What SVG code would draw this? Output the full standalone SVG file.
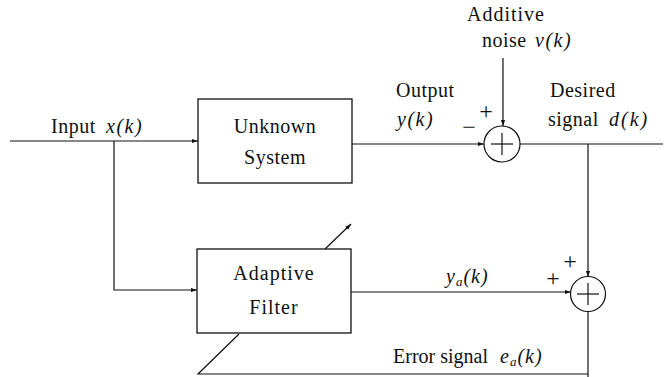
<svg xmlns="http://www.w3.org/2000/svg" width="665" height="377" viewBox="0 0 665 377">
<defs>
<marker id="ah" viewBox="0 0 10 10" refX="10" refY="5" markerWidth="6" markerHeight="6" orient="auto" markerUnits="userSpaceOnUse">
<path d="M0,1.5 L10,5 L0,8.5 z" fill="#111"/>
</marker>
<style>
.ln{fill:none;stroke:#111;stroke-width:1.2}
.bx{fill:#fff;stroke:#111;stroke-width:1.3}
.t{font-family:"Liberation Serif","DejaVu Serif",serif;font-size:20px;fill:#111}
.m{font-style:italic}
.c{text-anchor:middle}
.s{font-family:"Liberation Serif","DejaVu Serif",serif;font-size:24px;fill:#111;text-anchor:middle}
</style>
</defs>
<rect width="665" height="377" fill="#fff"/>
<g id="connectors">
<line class="ln" x1="10" y1="141" x2="198" y2="141" marker-end="url(#ah)"/>
<polyline class="ln" points="114,141 114,290 197,290" marker-end="url(#ah)"/>
<line class="ln" x1="352" y1="144" x2="484" y2="144" marker-end="url(#ah)"/>
<line class="ln" x1="503" y1="58" x2="503" y2="126" marker-end="url(#ah)"/>
<line class="ln" x1="520" y1="144" x2="663" y2="144"/>
<line class="ln" x1="588" y1="144" x2="588" y2="277" marker-end="url(#ah)"/>
<line class="ln" x1="351" y1="292" x2="571" y2="292" marker-end="url(#ah)"/>
<polyline class="ln" points="588,311 588,377"/>
<polyline class="ln" points="588,374 198,374 239,334"/>
<line class="ln" x1="325" y1="249" x2="351" y2="224" marker-end="url(#ah)"/>
</g>
<g id="unknown-system">
<rect class="bx" x="198" y="99" width="154" height="84"/>
<text class="t c" x="275" y="133" letter-spacing="0.5">Unknown</text>
<text class="t c" x="275" y="164" letter-spacing="0.5">System</text>
</g>
<g id="adaptive-filter">
<rect class="bx" x="197" y="249" width="154" height="84"/>
<text class="t c" x="274" y="280" letter-spacing="1">Adaptive</text>
<text class="t c" x="274" y="314" letter-spacing="1">Filter</text>
</g>
<g id="sum1">
<circle class="ln" cx="502" cy="144" r="18"/>
<line class="ln" x1="491" y1="144" x2="513" y2="144"/>
<line class="ln" x1="502" y1="133" x2="502" y2="155"/>
</g>
<g id="sum2">
<circle class="ln" cx="588" cy="294" r="17.5"/>
<line class="ln" x1="577" y1="294" x2="599" y2="294"/>
<line class="ln" x1="588" y1="283" x2="588" y2="305"/>
</g>
<g id="labels">
<text class="t" x="51" y="133" letter-spacing="0.5">Input</text>
<text class="t m" x="106" y="133" letter-spacing="1.5">x(k)</text>
<text class="t" x="396" y="97" letter-spacing="0.5">Output</text>
<text class="t m" x="397" y="126" letter-spacing="1.5">y(k)</text>
<text class="s" x="486" y="119">+</text>
<text class="s" x="469" y="135">−</text>
<text class="t" x="467" y="21" letter-spacing="1">Additive</text>
<text class="t" x="482" y="47" letter-spacing="0.5">noise</text>
<text class="t m" x="535" y="47" letter-spacing="1.5">v(k)</text>
<text class="t" x="550" y="97" letter-spacing="0.5">Desired</text>
<text class="t" x="548" y="126" letter-spacing="0.5">signal</text>
<text class="t m" x="609" y="126" letter-spacing="2">d(k)</text>
<text class="t m" x="446" y="283" letter-spacing="1">y<tspan font-size="13" dy="3">a</tspan><tspan dy="-3">(k)</tspan></text>
<text class="s" x="553" y="286">+</text>
<text class="s" x="570" y="269">+</text>
<text class="t" x="393" y="363">Error signal</text>
<text class="t m" x="500" y="363" letter-spacing="1">e<tspan font-size="13" dy="3">a</tspan><tspan dy="-3">(k)</tspan></text>
</g>
</svg>
